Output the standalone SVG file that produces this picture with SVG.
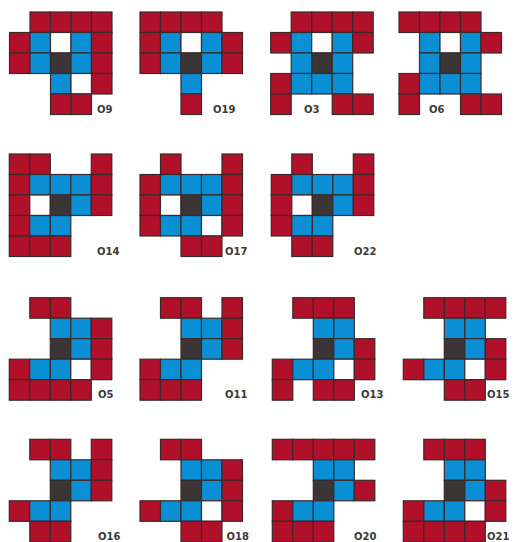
<svg xmlns="http://www.w3.org/2000/svg" width="514" height="542" viewBox="0 0 514 542">
<style>
rect{width:20.5px;height:20.5px;stroke:#3a2a2a;stroke-width:1.2}
.r{fill:#b0102a}
.b{fill:#0a8ed4}
.d{fill:#3b3536}
.w{fill:#ffffff}
text{font-family:"DejaVu Sans",sans-serif;font-size:10px;font-weight:bold;fill:#3a3a3a}
</style>
<rect x="0" y="0" width="514" height="542" style="width:514px;height:542px;fill:#fff;stroke:none"/>
<g id="O9" transform="translate(9.5,12)">
<rect class="r" x="20.5" y="0"/><rect class="r" x="41" y="0"/><rect class="r" x="61.5" y="0"/><rect class="r" x="82" y="0"/>
<rect class="r" x="0" y="20.5"/><rect class="b" x="20.5" y="20.5"/><rect class="w" x="41" y="20.5"/><rect class="b" x="61.5" y="20.5"/><rect class="r" x="82" y="20.5"/>
<rect class="r" x="0" y="41"/><rect class="b" x="20.5" y="41"/><rect class="d" x="41" y="41"/><rect class="b" x="61.5" y="41"/><rect class="r" x="82" y="41"/>
<rect class="b" x="41" y="61.5"/><rect class="w" x="61.5" y="61.5"/><rect class="r" x="82" y="61.5"/>
<rect class="r" x="41" y="82"/><rect class="r" x="61.5" y="82"/>
</g>
<g id="O19" transform="translate(140,12)">
<rect class="r" x="0" y="0"/><rect class="r" x="20.5" y="0"/><rect class="r" x="41" y="0"/><rect class="r" x="61.5" y="0"/>
<rect class="r" x="0" y="20.5"/><rect class="b" x="20.5" y="20.5"/><rect class="w" x="41" y="20.5"/><rect class="b" x="61.5" y="20.5"/><rect class="r" x="82" y="20.5"/>
<rect class="r" x="0" y="41"/><rect class="b" x="20.5" y="41"/><rect class="d" x="41" y="41"/><rect class="b" x="61.5" y="41"/><rect class="r" x="82" y="41"/>
<rect class="b" x="41" y="61.5"/>
<rect class="r" x="41" y="82"/>
</g>
<g id="O3" transform="translate(270.7,12)">
<rect class="r" x="20.5" y="0"/><rect class="r" x="41" y="0"/><rect class="r" x="61.5" y="0"/><rect class="r" x="82" y="0"/>
<rect class="r" x="0" y="20.5"/><rect class="b" x="20.5" y="20.5"/><rect class="w" x="41" y="20.5"/><rect class="b" x="61.5" y="20.5"/><rect class="r" x="82" y="20.5"/>
<rect class="b" x="20.5" y="41"/><rect class="d" x="41" y="41"/><rect class="b" x="61.5" y="41"/>
<rect class="r" x="0" y="61.5"/><rect class="b" x="20.5" y="61.5"/><rect class="b" x="41" y="61.5"/><rect class="b" x="61.5" y="61.5"/>
<rect class="r" x="0" y="82"/><rect class="r" x="61.5" y="82"/><rect class="r" x="82" y="82"/>
</g>
<g id="O6" transform="translate(399,12)">
<rect class="r" x="0" y="0"/><rect class="r" x="20.5" y="0"/><rect class="r" x="41" y="0"/><rect class="r" x="61.5" y="0"/>
<rect class="b" x="20.5" y="20.5"/><rect class="w" x="41" y="20.5"/><rect class="b" x="61.5" y="20.5"/><rect class="r" x="82" y="20.5"/>
<rect class="b" x="20.5" y="41"/><rect class="d" x="41" y="41"/><rect class="b" x="61.5" y="41"/>
<rect class="r" x="0" y="61.5"/><rect class="b" x="20.5" y="61.5"/><rect class="b" x="41" y="61.5"/><rect class="b" x="61.5" y="61.5"/>
<rect class="r" x="0" y="82"/><rect class="r" x="61.5" y="82"/><rect class="r" x="82" y="82"/>
</g>
<g id="O14" transform="translate(9.3,154)">
<rect class="r" x="0" y="0"/><rect class="r" x="20.5" y="0"/><rect class="r" x="82" y="0"/>
<rect class="r" x="0" y="20.5"/><rect class="b" x="20.5" y="20.5"/><rect class="b" x="41" y="20.5"/><rect class="b" x="61.5" y="20.5"/><rect class="r" x="82" y="20.5"/>
<rect class="r" x="0" y="41"/><rect class="w" x="20.5" y="41"/><rect class="d" x="41" y="41"/><rect class="b" x="61.5" y="41"/><rect class="r" x="82" y="41"/>
<rect class="r" x="0" y="61.5"/><rect class="b" x="20.5" y="61.5"/><rect class="b" x="41" y="61.5"/>
<rect class="r" x="0" y="82"/><rect class="r" x="20.5" y="82"/><rect class="r" x="41" y="82"/>
</g>
<g id="O17" transform="translate(140,154)">
<rect class="r" x="20.5" y="0"/><rect class="r" x="82" y="0"/>
<rect class="r" x="0" y="20.5"/><rect class="b" x="20.5" y="20.5"/><rect class="b" x="41" y="20.5"/><rect class="b" x="61.5" y="20.5"/><rect class="r" x="82" y="20.5"/>
<rect class="r" x="0" y="41"/><rect class="w" x="20.5" y="41"/><rect class="d" x="41" y="41"/><rect class="b" x="61.5" y="41"/><rect class="r" x="82" y="41"/>
<rect class="r" x="0" y="61.5"/><rect class="b" x="20.5" y="61.5"/><rect class="b" x="41" y="61.5"/><rect class="w" x="61.5" y="61.5"/><rect class="r" x="82" y="61.5"/>
<rect class="r" x="41" y="82"/><rect class="r" x="61.5" y="82"/>
</g>
<g id="O22" transform="translate(271.3,154)">
<rect class="r" x="20.5" y="0"/><rect class="r" x="82" y="0"/>
<rect class="r" x="0" y="20.5"/><rect class="b" x="20.5" y="20.5"/><rect class="b" x="41" y="20.5"/><rect class="b" x="61.5" y="20.5"/><rect class="r" x="82" y="20.5"/>
<rect class="r" x="0" y="41"/><rect class="w" x="20.5" y="41"/><rect class="d" x="41" y="41"/><rect class="b" x="61.5" y="41"/><rect class="r" x="82" y="41"/>
<rect class="r" x="0" y="61.5"/><rect class="b" x="20.5" y="61.5"/><rect class="b" x="41" y="61.5"/>
<rect class="r" x="20.5" y="82"/><rect class="r" x="41" y="82"/>
</g>
<g id="O5" transform="translate(9.3,297.7)">
<rect class="r" x="20.5" y="0"/><rect class="r" x="41" y="0"/>
<rect class="b" x="41" y="20.5"/><rect class="b" x="61.5" y="20.5"/><rect class="r" x="82" y="20.5"/>
<rect class="d" x="41" y="41"/><rect class="b" x="61.5" y="41"/><rect class="r" x="82" y="41"/>
<rect class="r" x="0" y="61.5"/><rect class="b" x="20.5" y="61.5"/><rect class="b" x="41" y="61.5"/><rect class="w" x="61.5" y="61.5"/><rect class="r" x="82" y="61.5"/>
<rect class="r" x="0" y="82"/><rect class="r" x="20.5" y="82"/><rect class="r" x="41" y="82"/><rect class="r" x="61.5" y="82"/>
</g>
<g id="O11" transform="translate(140,297.7)">
<rect class="r" x="20.5" y="0"/><rect class="r" x="41" y="0"/><rect class="r" x="82" y="0"/>
<rect class="b" x="41" y="20.5"/><rect class="b" x="61.5" y="20.5"/><rect class="r" x="82" y="20.5"/>
<rect class="d" x="41" y="41"/><rect class="b" x="61.5" y="41"/><rect class="r" x="82" y="41"/>
<rect class="r" x="0" y="61.5"/><rect class="b" x="20.5" y="61.5"/><rect class="b" x="41" y="61.5"/>
<rect class="r" x="0" y="82"/><rect class="r" x="20.5" y="82"/><rect class="r" x="41" y="82"/>
</g>
<g id="O13" transform="translate(272.3,297.7)">
<rect class="r" x="20.5" y="0"/><rect class="r" x="41" y="0"/><rect class="r" x="61.5" y="0"/>
<rect class="b" x="41" y="20.5"/><rect class="b" x="61.5" y="20.5"/>
<rect class="d" x="41" y="41"/><rect class="b" x="61.5" y="41"/><rect class="r" x="82" y="41"/>
<rect class="r" x="0" y="61.5"/><rect class="b" x="20.5" y="61.5"/><rect class="b" x="41" y="61.5"/><rect class="w" x="61.5" y="61.5"/><rect class="r" x="82" y="61.5"/>
<rect class="r" x="0" y="82"/><rect class="r" x="41" y="82"/><rect class="r" x="61.5" y="82"/>
</g>
<g id="O15" transform="translate(403.3,297.7)">
<rect class="r" x="20.5" y="0"/><rect class="r" x="41" y="0"/><rect class="r" x="61.5" y="0"/><rect class="r" x="82" y="0"/>
<rect class="b" x="41" y="20.5"/><rect class="b" x="61.5" y="20.5"/>
<rect class="d" x="41" y="41"/><rect class="b" x="61.5" y="41"/><rect class="r" x="82" y="41"/>
<rect class="r" x="0" y="61.5"/><rect class="b" x="20.5" y="61.5"/><rect class="b" x="41" y="61.5"/><rect class="w" x="61.5" y="61.5"/><rect class="r" x="82" y="61.5"/>
<rect class="r" x="41" y="82"/><rect class="r" x="61.5" y="82"/>
</g>
<g id="O16" transform="translate(9.3,439.3)">
<rect class="r" x="20.5" y="0"/><rect class="r" x="41" y="0"/><rect class="r" x="82" y="0"/>
<rect class="b" x="41" y="20.5"/><rect class="b" x="61.5" y="20.5"/><rect class="r" x="82" y="20.5"/>
<rect class="d" x="41" y="41"/><rect class="b" x="61.5" y="41"/><rect class="r" x="82" y="41"/>
<rect class="r" x="0" y="61.5"/><rect class="b" x="20.5" y="61.5"/><rect class="b" x="41" y="61.5"/>
<rect class="r" x="20.5" y="82"/><rect class="r" x="41" y="82"/>
</g>
<g id="O18" transform="translate(140,439.3)">
<rect class="r" x="20.5" y="0"/><rect class="r" x="41" y="0"/>
<rect class="b" x="41" y="20.5"/><rect class="b" x="61.5" y="20.5"/><rect class="r" x="82" y="20.5"/>
<rect class="d" x="41" y="41"/><rect class="b" x="61.5" y="41"/><rect class="r" x="82" y="41"/>
<rect class="r" x="0" y="61.5"/><rect class="b" x="20.5" y="61.5"/><rect class="b" x="41" y="61.5"/><rect class="w" x="61.5" y="61.5"/><rect class="r" x="82" y="61.5"/>
<rect class="r" x="41" y="82"/><rect class="r" x="61.5" y="82"/>
</g>
<g id="O20" transform="translate(272.3,439.3)">
<rect class="r" x="0" y="0"/><rect class="r" x="20.5" y="0"/><rect class="r" x="41" y="0"/><rect class="r" x="61.5" y="0"/><rect class="r" x="82" y="0"/>
<rect class="b" x="41" y="20.5"/><rect class="b" x="61.5" y="20.5"/>
<rect class="d" x="41" y="41"/><rect class="b" x="61.5" y="41"/><rect class="r" x="82" y="41"/>
<rect class="r" x="0" y="61.5"/><rect class="b" x="20.5" y="61.5"/><rect class="b" x="41" y="61.5"/>
<rect class="r" x="0" y="82"/><rect class="r" x="20.5" y="82"/><rect class="r" x="41" y="82"/>
</g>
<g id="O21" transform="translate(403.3,439.3)">
<rect class="r" x="20.5" y="0"/><rect class="r" x="41" y="0"/><rect class="r" x="61.5" y="0"/>
<rect class="b" x="41" y="20.5"/><rect class="b" x="61.5" y="20.5"/>
<rect class="d" x="41" y="41"/><rect class="b" x="61.5" y="41"/><rect class="r" x="82" y="41"/>
<rect class="r" x="0" y="61.5"/><rect class="b" x="20.5" y="61.5"/><rect class="b" x="41" y="61.5"/><rect class="w" x="61.5" y="61.5"/><rect class="r" x="82" y="61.5"/>
<rect class="r" x="0" y="82"/><rect class="r" x="20.5" y="82"/><rect class="r" x="41" y="82"/><rect class="r" x="61.5" y="82"/>
</g>
<g id="labels">
<text x="97" y="113">O9</text>
<text x="213" y="113">O19</text>
<text x="304" y="113">O3</text>
<text x="429" y="113">O6</text>
<text x="97" y="255">O14</text>
<text x="225" y="255">O17</text>
<text x="354" y="255">O22</text>
<text x="98" y="398">O5</text>
<text x="225" y="398">O11</text>
<text x="361" y="398">O13</text>
<text x="487" y="398">O15</text>
<text x="98" y="540">O16</text>
<text x="226.5" y="540">O18</text>
<text x="354" y="540">O20</text>
<text x="487" y="540">O21</text>
</g>
</svg>
